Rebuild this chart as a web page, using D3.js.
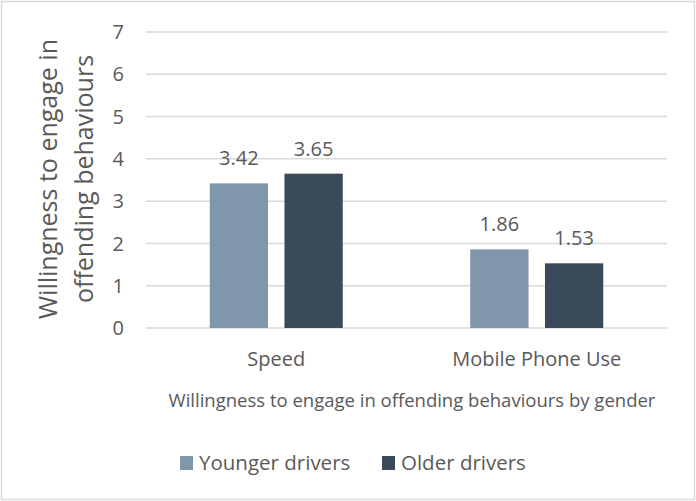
<!DOCTYPE html>
<html>
<head>
<meta charset="utf-8">
<script src="https://cdn.jsdelivr.net/npm/d3@7"></script>
<style>
    body { margin: 0; background: #fff; }
    text { font-family: "Open Sans", "Noto Sans", sans-serif; fill: #595959; }
</style>
</head>
<body>
<svg width="696" height="501"></svg>
<script>
// chart data
const categories = ["Speed", "Mobile Phone Use"];
const seriesNames = ["Younger drivers", "Older drivers"];
const younger = [3.42, 1.86];
const older = [3.65, 1.53];
const yTicks = [0, 1, 2, 3, 4, 5, 6, 7];
const colors = ["#7f96ab", "#3b4a5a"];

const svg = d3.select("svg");

// outer border
svg.append("rect")
    .attr("x", 1.5).attr("y", 1.5)
    .attr("width", 693).attr("height", 498)
    .attr("fill", "#fff")
    .attr("stroke", "#d9d9d9")
    .attr("stroke-width", 1.5);

const plotLeft = 146, plotRight = 667, plotTop = 32, plotBottom = 328;

var x = d3.scaleBand().domain(categories).range([plotLeft, plotRight]);
var y = d3.scaleLinear().domain([0, 7]).range([plotBottom, plotTop]);
var xs = d3.scaleBand().domain(seriesNames).range([0, 133]).paddingInner(0.22);

// gridlines
svg.append("g")
    .selectAll("line")
    .data(yTicks)
    .enter()
    .append("line")
    .attr("x1", plotLeft).attr("x2", plotRight)
    .attr("y1", d => y(d)).attr("y2", d => y(d))
    .attr("stroke", "#d9d9d9")
    .attr("stroke-width", 1.5);

// y tick labels
svg.append("g")
    .selectAll("text")
    .data(yTicks)
    .enter()
    .append("text")
    .text(d => d)
    .attr("x", 124)
    .attr("y", d => y(d))
    .attr("dy", "0.36em")
    .attr("text-anchor", "end")
    .style("font-size", "20px");

var rows = [];
categories.forEach(function(c, i) {
    rows.push({cat: c, s: seriesNames[0], v: younger[i], col: colors[0]});
    rows.push({cat: c, s: seriesNames[1], v: older[i], col: colors[1]});
});

var groupOffset = (x.bandwidth() - 133) / 2;

svg.append("g")
    .selectAll("rect")
    .data(rows)
    .enter()
    .append("rect")
    .attr("x", d => x(d.cat) + groupOffset + xs(d.s))
    .attr("y", d => y(d.v))
    .attr("width", xs.bandwidth())
    .attr("height", d => y(0) - y(d.v))
    .attr("fill", d => d.col);

// value labels
svg.append("g")
    .selectAll("text")
    .data(rows)
    .enter()
    .append("text")
    .text(d => d.v.toFixed(2))
    .attr("x", d => x(d.cat) + groupOffset + xs(d.s) + xs.bandwidth() / 2)
    .attr("y", d => y(d.v) - 18)
    .attr("text-anchor", "middle")
    .style("font-size", "20px");

// category labels
svg.append("g")
    .selectAll("text")
    .data(categories)
    .enter()
    .append("text")
    .text(d => d)
    .attr("x", d => x(d) + x.bandwidth() / 2)
    .attr("y", 366)
    .attr("text-anchor", "middle")
    .style("font-size", "20px");

// axis titles
svg.append("text")
    .text("Willingness to engage in offending behaviours by gender")
    .attr("x", 412).attr("y", 407)
    .attr("text-anchor", "middle")
    .style("font-size", "18.5px");

var yTitle = svg.append("text")
    .attr("transform", "translate(57,179) rotate(-90)")
    .attr("text-anchor", "middle")
    .style("font-size", "25px");
yTitle.append("tspan").attr("x", 0).attr("y", 0).text("Willingness to engage in");
yTitle.append("tspan").attr("x", 0).attr("y", 36).text("offending behaviours");

// legend
var legend = svg.append("g")
    .selectAll("g")
    .data(seriesNames)
    .enter()
    .append("g")
    .attr("transform", (d, i) => "translate(" + [180, 382][i] + ",456)");
legend.append("rect")
    .attr("width", 13).attr("height", 14)
    .attr("fill", (d, i) => colors[i]);
legend.append("text")
    .text(d => d)
    .attr("x", 19).attr("y", 14)
    .style("font-size", "20.5px");
</script>
</body>
</html>
